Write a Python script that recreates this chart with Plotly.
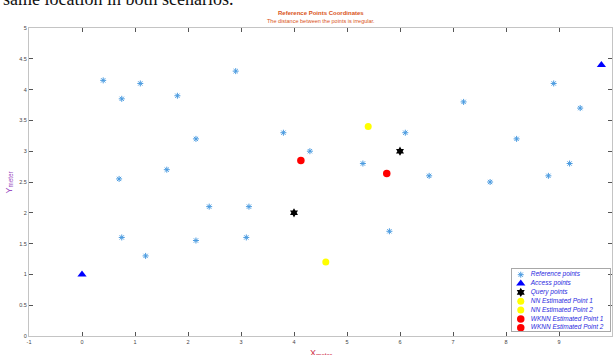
import plotly.graph_objects as go

# Reference points (x, y) in metres
ref_x = [0.4, 1.1, 0.75, 1.8, 2.9, 2.15, 1.6, 0.7, 2.4, 3.15, 0.75, 2.15, 3.1, 1.2,
         3.8, 4.3, 5.3, 6.1, 6.55, 7.2, 8.9, 9.4, 8.2, 9.2, 8.8, 7.7, 5.8]
ref_y = [4.15, 4.1, 3.85, 3.9, 4.3, 3.2, 2.7, 2.55, 2.1, 2.1, 1.6, 1.55, 1.6, 1.3,
         3.3, 3.0, 2.8, 3.3, 2.6, 3.8, 4.1, 3.7, 3.2, 2.8, 2.6, 2.5, 1.7]

# Access points
ap_x = [0.0, 9.8]
ap_y = [1.0, 4.4]

# Query points
q_x = [4.0, 6.0]
q_y = [2.0, 3.0]

# Estimated positions
nn1 = (4.6, 1.2)
nn2 = (5.4, 3.4)
wknn1 = (4.13, 2.85)
wknn2 = (5.75, 2.64)

x_ticks = list(range(-1, 11))
y_ticks = [0, 0.5, 1, 1.5, 2, 2.5, 3, 3.5, 4, 4.5, 5]
y_ticktext = ["0", "0.5", "1", "1.5", "2", "2.5", "3", "3.5", "4", "4.5", "5"]

legend_labels = ["Reference points", "Access points", "Query points",
                 "NN Estimated Point 1", "NN Estimated Point 2",
                 "WKNN Estimated Point 1", "WKNN Estimated Point 2"]

FONT = "Liberation Sans, Arial, sans-serif"
REF_BLUE = "#4a9be0"
TITLE_ORANGE = "#d95319"

# marker style per series
styles = [
    dict(symbol="asterisk-open", size=5, color=REF_BLUE, line=dict(color=REF_BLUE, width=1)),
    dict(symbol="triangle-up", size=8, color="#0000ff", line=dict(width=0)),
    dict(symbol="hexagram", size=7, color="#000000", line=dict(width=0)),
    dict(symbol="circle", size=7, color="#ffff00", line=dict(width=0)),
    dict(symbol="circle", size=7, color="#ffff00", line=dict(width=0)),
    dict(symbol="circle", size=7.5, color="#ff0000", line=dict(width=0)),
    dict(symbol="circle", size=7.5, color="#ff0000", line=dict(width=0)),
]

series = [
    (ref_x, ref_y),
    (ap_x, ap_y),
    (q_x, q_y),
    ([nn1[0]], [nn1[1]]),
    ([nn2[0]], [nn2[1]]),
    ([wknn1[0]], [wknn1[1]]),
    ([wknn2[0]], [wknn2[1]]),
]

fig = go.Figure()
for (xs, ys), st, name in zip(series, styles, legend_labels):
    fig.add_trace(go.Scatter(x=xs, y=ys, mode="markers", name=name, marker=st,
                             cliponaxis=False, showlegend=False,
                             xaxis="x", yaxis="y"))

# Legend panel: one swatch per series, stacked top to bottom
n = len(legend_labels)
for i, (st, name) in enumerate(zip(styles, legend_labels)):
    fig.add_trace(go.Scatter(x=[0.087], y=[n - 1 - i], mode="markers", marker=st,
                             showlegend=False, cliponaxis=False,
                             xaxis="x2", yaxis="y2"))
fig.add_trace(go.Scatter(x=[0.19] * n, y=list(range(n - 1, -1, -1)), mode="text",
                         text=["<i>%s</i>" % s for s in legend_labels],
                         textposition="middle right",
                         textfont=dict(family=FONT, size=6.5, color="#2a2ae0"),
                         showlegend=False, cliponaxis=False,
                         xaxis="x2", yaxis="y2"))

axis_common = dict(showline=True, linecolor="#c4c4c4", linewidth=1, mirror="ticks",
                   ticks="inside", ticklen=4, tickcolor="#555555", tickwidth=1,
                   showgrid=False, zeroline=False,
                   tickfont=dict(family=FONT, size=5.5, color="#444444"))

W, H = 614, 355
ml, mr, mt, mb = 29, 2, 28, 19
pw, ph = W - ml - mr, H - mt - mb


def px_x(p):
    return (p - ml) / pw


def px_y(p):
    return (H - mb - p) / ph


fig.update_layout(
    width=W, height=H,
    margin=dict(l=ml, r=mr, t=mt, b=mb, pad=0),
    paper_bgcolor="white", plot_bgcolor="rgba(0,0,0,0)",
    font=dict(family=FONT),
    xaxis=dict(range=[-1, 10], tickvals=x_ticks, ticktext=[str(v) for v in x_ticks],
               domain=[0, 1], anchor="y", **axis_common),
    yaxis=dict(range=[0, 5], tickvals=y_ticks, ticktext=y_ticktext,
               domain=[0, 1], anchor="x", **axis_common),
    xaxis2=dict(range=[0, 1], domain=[px_x(512.3), px_x(609.5)], anchor="y2",
                showline=True, mirror=True, linecolor="#a8a8a8", linewidth=1,
                showticklabels=False, ticks="", showgrid=False, zeroline=False),
    yaxis2=dict(range=[-0.37, 6.61], domain=[px_y(331), px_y(269.3)], anchor="x2",
                showline=True, mirror=True, linecolor="#a8a8a8", linewidth=1,
                showticklabels=False, ticks="", showgrid=False, zeroline=False),
    showlegend=False,
)

annotations = [
    dict(text="<b>Reference Points Coordinates</b>", x=0.5, y=px_y(12.5),
         font=dict(family=FONT, size=6, color=TITLE_ORANGE)),
    dict(text="The distance between the points is irregular.", x=0.5, y=px_y(21),
         font=dict(family=FONT, size=5.5, color=TITLE_ORANGE)),
    dict(text="Y<sub>meter</sub>", x=px_x(8.5), y=px_y(183), textangle=-90,
         font=dict(family=FONT, size=9, color="#9b4fbf")),
    dict(text="X<sub>meter</sub>", x=0.5, y=px_y(353.3), xanchor="center",
         font=dict(family=FONT, size=9, color="#d0304a")),
    dict(text="same location in both scenarios.", x=px_x(1), y=px_y(-1.5), xanchor="left",
         font=dict(family="Liberation Serif, Times New Roman, serif", size=18, color="#111111")),
]
for a in annotations:
    a.setdefault("xanchor", "center")
    a.setdefault("yanchor", "middle")
    fig.add_annotation(xref="paper", yref="paper", showarrow=False, **a)

fig.write_html("out.html")
